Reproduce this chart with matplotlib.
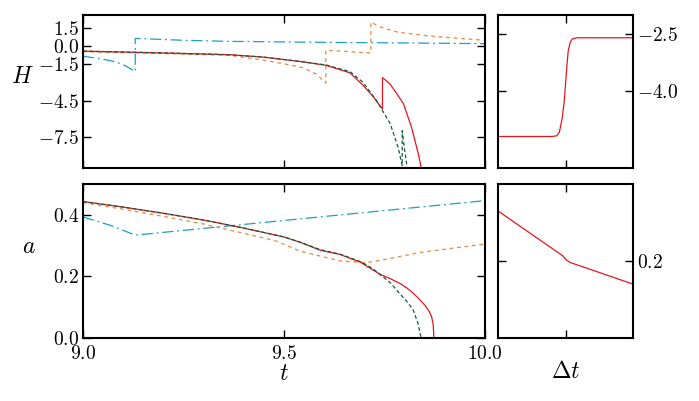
import numpy as np
import matplotlib
matplotlib.use('Agg')
import matplotlib.pyplot as plt

plt.rcParams['mathtext.fontset'] = 'cm'
plt.rcParams['font.family'] = 'serif'
plt.rcParams['font.serif'] = ['DejaVu Serif']

RED = '#e8141c'
ORANGE = '#e8893c'
CYAN = '#1aa0c8'
GREEN = '#145a3c'

# --- H(t), top left panel ---
t_red_H = [9.0, 9.2, 9.366, 9.45, 9.5, 9.55, 9.605, 9.664, 9.697, 9.72, 9.745,
           9.745, 9.763, 9.78, 9.797, 9.817, 9.834, 9.842]
H_red = [-0.4, -0.55, -0.7, -0.9, -1.1, -1.3, -1.58, -2.2, -3.25, -4.1, -5.2,
         -2.6, -3.1, -3.9, -4.75, -6.7, -8.9, -10.2]

t_green_H = [9.0, 9.2, 9.366, 9.45, 9.5, 9.55, 9.605, 9.664, 9.697, 9.73, 9.764,
             9.784, 9.794, 9.794, 9.80, 9.807]
H_green = [-0.4, -0.55, -0.7, -0.9, -1.1, -1.3, -1.55, -2.1, -3.0, -4.5, -6.4,
           -8.4, -9.9, -7.0, -8.6, -10.2]

t_orange_H = [9.0, 9.2, 9.366, 9.45, 9.5, 9.55, 9.58, 9.604,
              9.604, 9.716, 9.716, 9.74, 9.78, 9.85, 9.9, 10.0]
H_orange = [-0.45, -0.6, -0.75, -1.15, -1.45, -1.8, -2.3, -3.05,
            -0.33, -0.55, 2.0, 1.6, 1.2, 0.9, 0.75, 0.5]

t_cyan_H = [9.0, 9.04, 9.083, 9.107, 9.13, 9.13, 9.25, 9.366, 9.6, 9.8, 10.0]
H_cyan = [-0.83, -1.0, -1.3, -1.65, -2.1, 0.66, 0.5, 0.41, 0.33, 0.28, 0.22]

# --- a(t), bottom left panel ---
t_red_a = [9.0, 9.1, 9.2, 9.3, 9.4, 9.5, 9.54, 9.59, 9.64, 9.69, 9.706, 9.72,
           9.74, 9.764, 9.79, 9.805, 9.82, 9.835, 9.85, 9.86, 9.867, 9.871,
           9.873]
a_red = [0.443, 0.425, 0.405, 0.383, 0.357, 0.328, 0.311, 0.285, 0.271, 0.246,
         0.233, 0.222, 0.206, 0.193, 0.176, 0.163, 0.147, 0.128, 0.107, 0.089,
         0.07, 0.045, 0.0]

t_green_a = [9.0, 9.1, 9.2, 9.3, 9.4, 9.5, 9.54, 9.59, 9.64, 9.69, 9.706, 9.72,
             9.74, 9.764, 9.79, 9.808, 9.821, 9.833, 9.841]
a_green = [0.443, 0.425, 0.405, 0.383, 0.357, 0.328, 0.311, 0.287, 0.272, 0.248,
           0.237, 0.226, 0.205, 0.18, 0.141, 0.115, 0.092, 0.049, 0.0]

t_orange_a = [9.0, 9.1, 9.2, 9.3, 9.4, 9.48, 9.54, 9.59, 9.64, 9.69, 9.706,
              9.74, 9.84, 10.0]
a_orange = [0.44, 0.418, 0.395, 0.37, 0.34, 0.315, 0.282, 0.266, 0.25, 0.246,
            0.245, 0.252, 0.278, 0.305]

t_cyan_a = [9.0, 9.07, 9.13, 10.0]
a_cyan = [0.393, 0.365, 0.334, 0.446]

# --- right panels, versus Delta t ---
dt_H = [0.0, 0.40, 0.437, 0.455, 0.474, 0.49, 0.5, 0.51, 0.52, 0.535, 0.55,
        0.585, 0.65, 1.0]
H_dt = [-5.2, -5.2, -5.18, -5.08, -4.75, -4.3, -3.84, -3.35, -2.95, -2.72,
        -2.63, -2.6, -2.6, -2.6]

dt_a = [0.0, 0.48, 0.5, 0.53, 1.0]
a_dt = [0.278, 0.208, 0.203, 0.198, 0.164]

W, Hpx = 699, 401
fig = plt.figure(figsize=(W / 100, Hpx / 100), dpi=100)


def box(x0, y0, x1, y1):
    return [x0 / W, 1 - y1 / Hpx, (x1 - x0) / W, (y1 - y0) / Hpx]


ax_H = fig.add_axes(box(83, 15, 485, 168))
ax_a = fig.add_axes(box(83, 184, 485, 338))
ax_Hr = fig.add_axes(box(498, 15, 633, 168))
ax_ar = fig.add_axes(box(498, 184, 633, 338))

lw = 0.9
dash_o = (0, (3, 3))
dash_g = (0, (3, 2))
dash_c = (0, (9, 3, 1.5, 3))

ax_H.plot(t_cyan_H, H_cyan, color=CYAN, lw=lw, ls=dash_c)
ax_H.plot(t_orange_H, H_orange, color=ORANGE, lw=lw, ls=dash_o)
ax_H.plot(t_red_H, H_red, color=RED, lw=lw)
ax_H.plot(t_green_H, H_green, color=GREEN, lw=lw, ls=dash_g)

ax_a.plot(t_cyan_a, a_cyan, color=CYAN, lw=lw, ls=dash_c)
ax_a.plot(t_orange_a, a_orange, color=ORANGE, lw=lw, ls=dash_o)
ax_a.plot(t_red_a, a_red, color=RED, lw=lw)
ax_a.plot(t_green_a, a_green, color=GREEN, lw=lw, ls=dash_g)

ax_Hr.plot(dt_H, H_dt, color=RED, lw=lw)
ax_ar.plot(dt_a, a_dt, color=RED, lw=lw)

fs = 14
for ax in [ax_H, ax_a, ax_Hr, ax_ar]:
    for s in ax.spines.values():
        s.set_linewidth(1.5)
    ax.tick_params(direction='in', length=6, width=1, top=True, right=True,
                   labelsize=fs, pad=3)

ax_H.set_xlim(9.0, 10.0)
ax_H.set_ylim(-10.1, 2.6)
ax_H.set_xticks([9.0, 9.5, 10.0])
ax_H.set_xticklabels([])
Hticks = [1.5, 0.0, -1.5, -4.5, -7.5]
ax_H.set_yticks(Hticks)
ax_H.set_yticklabels(['$%.1f$' % v for v in Hticks])
ax_H.set_ylabel('$H$', rotation=0, fontsize=17)
ax_H.yaxis.set_label_coords(-0.15, 0.52)

ax_a.set_xlim(9.0, 10.0)
ax_a.set_ylim(0.0, 0.5)
ax_a.set_xticks([9.0, 9.5, 10.0])
ax_a.set_xticklabels(['$9.0$', '$9.5$', '$10.0$'])
ax_a.tick_params(axis='x', pad=5)
ax_a.set_yticks([0.0, 0.2, 0.4])
ax_a.set_yticklabels(['$0.0$', '$0.2$', '$0.4$'])
ax_a.set_ylabel('$a$', rotation=0, fontsize=17)
ax_a.yaxis.set_label_coords(-0.135, 0.52)
ax_a.set_xlabel('$t$', fontsize=17, labelpad=-1)

ax_Hr.set_xlim(0, 1)
ax_Hr.set_ylim(-6.03, -2.0)
ax_Hr.set_xticks([0.5])
ax_Hr.set_xticklabels([])
ax_Hr.set_yticks([-2.5, -4.0])
ax_Hr.set_yticklabels(['$-2.5$', '$-4.0$'])
ax_Hr.tick_params(labelleft=False, labelright=True)

ax_ar.set_xlim(0, 1)
ax_ar.set_ylim(0.08, 0.32)
ax_ar.set_xticks([0.5])
ax_ar.set_xticklabels([])
ax_ar.set_yticks([0.2])
ax_ar.set_yticklabels(['$0.2$'])
ax_ar.tick_params(labelleft=False, labelright=True)
ax_ar.set_xlabel('$\\Delta t$', fontsize=17, labelpad=13)

fig.savefig('out.png', dpi=100)
